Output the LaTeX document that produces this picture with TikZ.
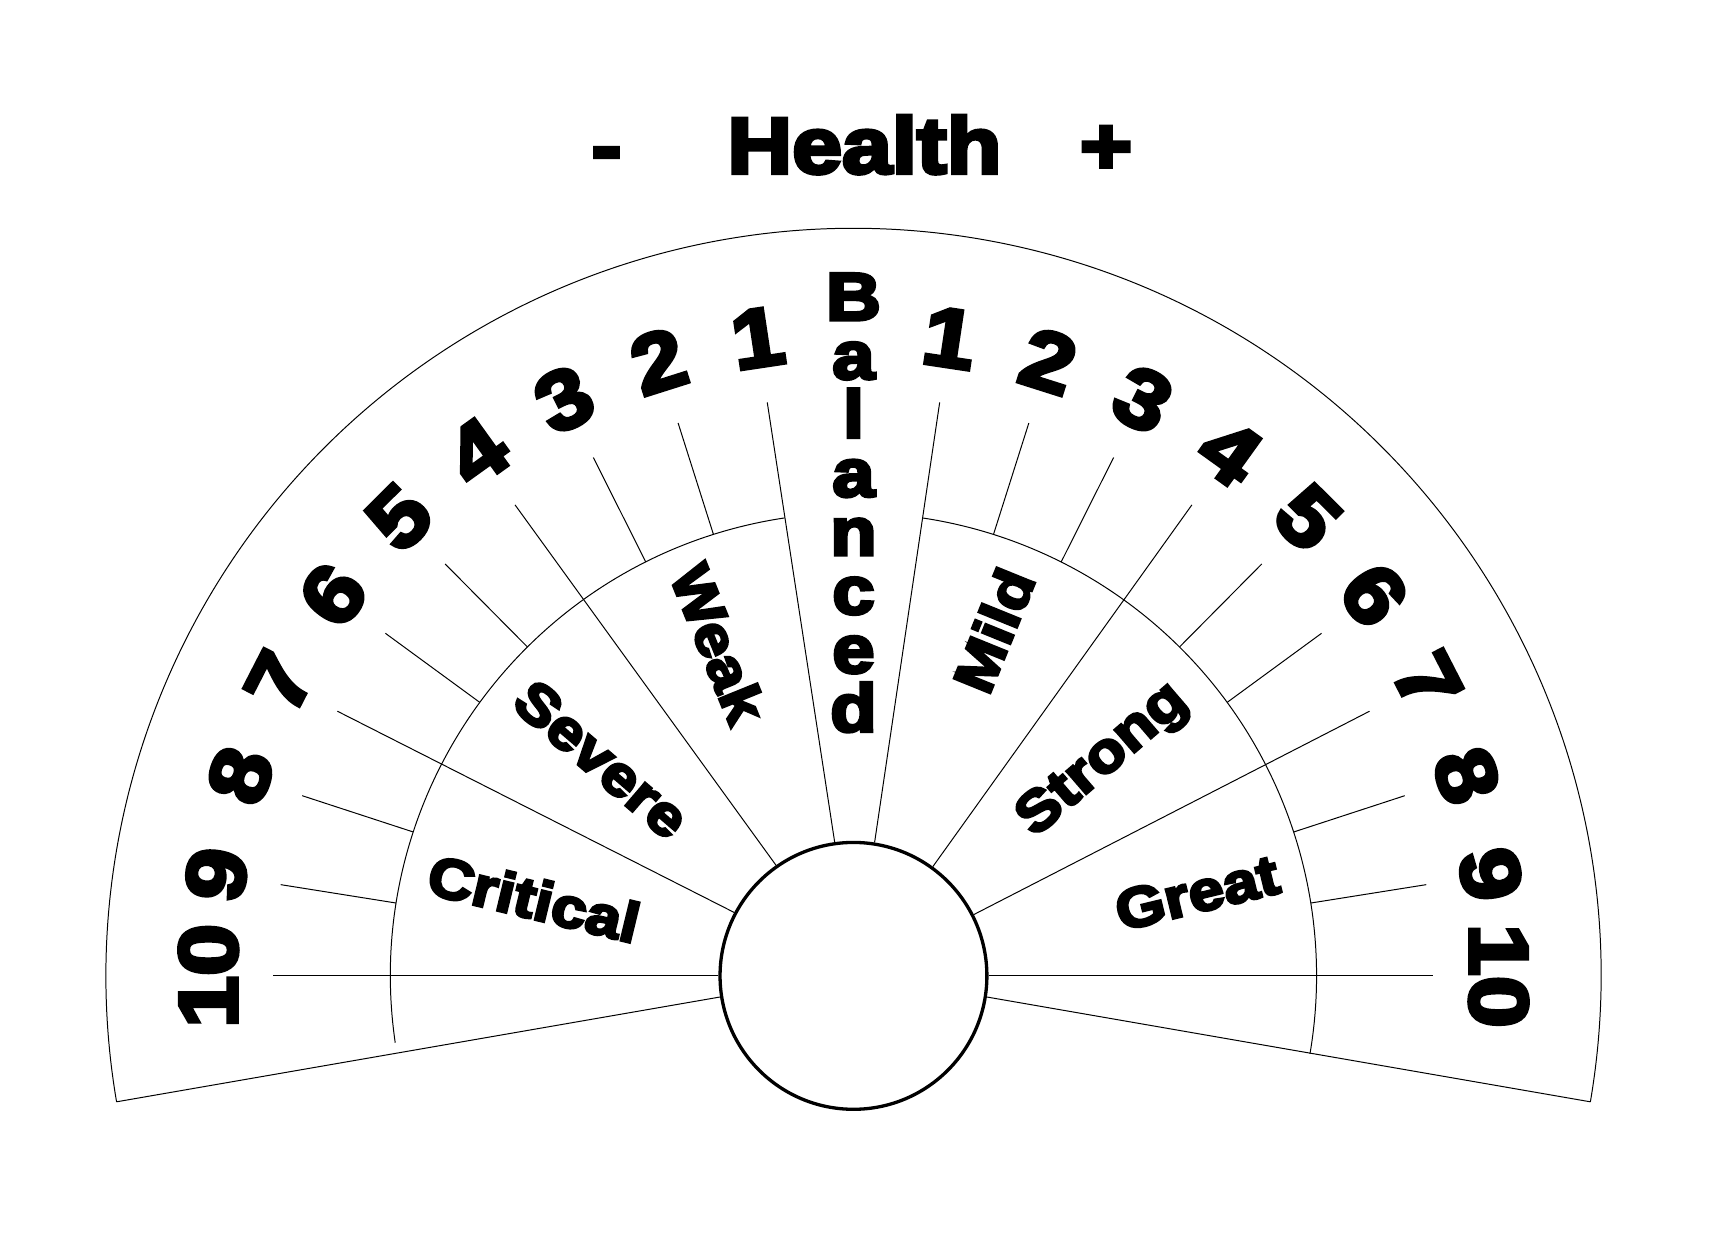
\documentclass[tikz,border=0pt]{standalone}
\usepackage{fontspec}
\newfontfamily\blk[FakeBold=5,FakeStretch=1.13]{Liberation Sans Bold}
\begin{document}
\begin{tikzpicture}[x=1pt,y=1pt,
  thinline/.style={line width=0.9pt},
  numlbl/.style={font=\blk\fontsize{75}{80}\selectfont, inner sep=0pt},
  seclbl/.style={font=\blk\fontsize{51}{56}\selectfont, inner sep=0pt},
  titlelbl/.style={font=\blk\fontsize{72}{78}\selectfont, inner sep=0pt, anchor=base},
]
\useasboundingbox (-774,-256) rectangle (794,885);
\fill[white] (-774,-256) rectangle (794,885);
\coordinate (C) at (0,0);
\node[circle, draw, line width=3pt, minimum size=242pt, inner sep=0pt] (hub) at (C) {};

% outer arc and bottom edges
\coordinate (oL) at (189.7:678);
\coordinate (oR) at (-9.7:678);
\draw[thinline] (oR) arc[start angle=-9.7, end angle=189.7, radius=678pt];
\draw[thinline] (hub.189.7) -- (oL);
\draw[thinline] (hub.-9.7) -- (oR);

% middle ring
\coordinate (mLa) at (188.3:420);
\coordinate (mRa) at (81.45:420);
\draw[thinline] (mLa) arc[start angle=188.3, end angle=98.55, radius=420pt];
\draw[thinline] (mRa) arc[start angle=81.45, end angle=-9.7, radius=420pt];

% ticks and numbers
\foreach \i in {1,...,10} {
  \pgfmathsetmacro\aL{180-9.05*(10-\i)}
  \pgfmathsetmacro\aR{9.05*(10-\i)}
  \coordinate (tL\i) at (\aL:526);
  \coordinate (tR\i) at (\aR:526);
  \coordinate (mL\i) at (\aL:420);
  \coordinate (mR\i) at (\aR:420);
  \node[numlbl, rotate=\aL-90] (nL\i) at (\aL:585) {\i};
  \node[numlbl, rotate=\aR-90] (nR\i) at (\aR:585) {\i};
}
\foreach \i in {1,4,7,10} {
  \pgfmathsetmacro\aL{180-9.05*(10-\i)}
  \pgfmathsetmacro\aR{9.05*(10-\i)}
  \draw[thinline] (hub.\aL) -- (tL\i);
  \draw[thinline] (hub.\aR) -- (tR\i);
}
\foreach \i in {2,3,5,6,8,9} {
  \draw[thinline] (mL\i) -- (tL\i);
  \draw[thinline] (mR\i) -- (tR\i);
}

% sector labels
\node[seclbl, anchor=west, rotate=-13.6] (crit) at (166.4:396) {Critical};
\node[seclbl, anchor=west, rotate=-40.7] (sev) at (139.3:396) {Severe};
\node[seclbl, anchor=west, rotate=-67.9] (weak) at (112.1:400) {Weak};
\node[seclbl, anchor=east, rotate=67.9] (mild) at (67.9:396) {Mild};
\node[seclbl, anchor=east, rotate=40.7] (strong) at (40.7:392) {Strong};
\node[seclbl, anchor=east, rotate=13.6] (great) at (13.6:396) {Great};

% Balanced
\node[font=\blk\fontsize{61}{53.3}\selectfont, inner sep=0pt, anchor=north, align=center] (bal) at (0,637) {B\\a\\l\\a\\n\\c\\e\\d};

% title
\node[titlelbl] (minus) at (-224,728) {-};
\node[titlelbl] (title) at (10,728) {Health};
\node[titlelbl] (plus) at (229,728) {+};
\end{tikzpicture}
\end{document}
